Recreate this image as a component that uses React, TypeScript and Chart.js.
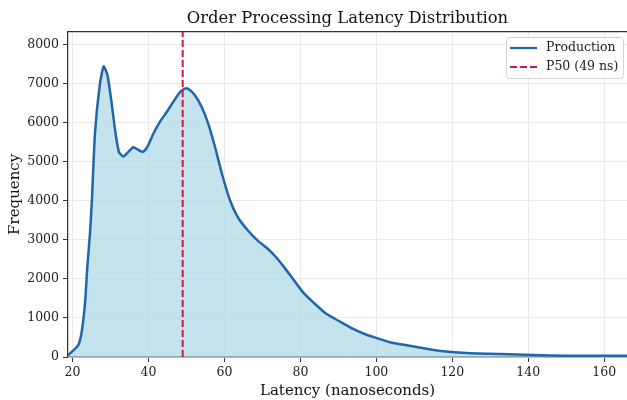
import React, { useEffect, useRef } from "react";
import { Chart, registerables } from "chart.js";

Chart.register(...registerables);

const latency = [18.8, 20.2, 21.5, 22.4, 23.3, 23.9, 24.6, 25.1, 25.9, 27.2, 28.2, 29.2, 30.3, 31.2, 32.2, 33.4, 34.7, 36.0, 37.3, 38.5, 39.7, 41.3, 43.0, 44.8, 46.5, 48.3, 49.6, 50.5, 52.2, 54.0, 55.7, 57.5, 59.3, 61.4, 63.6, 66.3, 68.9, 71.1, 73.3, 75.5, 78.1, 80.7, 83.4, 86.9, 90.4, 93.9, 97.4, 100.1, 103.6, 108.0, 113.2, 117.6, 123.7, 132.5, 141.3, 150, 166];
const frequency = [40, 170, 300, 640, 1400, 2330, 3180, 4030, 5730, 7000, 7450, 7220, 6500, 5820, 5260, 5140, 5260, 5375, 5310, 5260, 5390, 5730, 6030, 6280, 6540, 6790, 6880, 6870, 6710, 6410, 5990, 5390, 4710, 4030, 3570, 3230, 2970, 2800, 2590, 2330, 1995, 1655, 1400, 1100, 910, 720, 570, 485, 380, 300, 210, 145, 100, 75, 50, 30, 30];
const p50 = 49;
const xTicks = [20, 40, 60, 80, 100, 120, 140, 160];
const yTicks = [0, 1000, 2000, 3000, 4000, 5000, 6000, 7000, 8000];
const xMin = 18.8;
const xMax = 166;
const yMax = 8340;
const seriesLabel = "Production";
const p50Label = `P50 (${p50} ns)`;

const FONT = "'DejaVu Serif', serif";
const BLUE = "#2166ac";
const RED = "#c41e3a";

const frame = {
  id: "frame",
  afterDatasetsDraw(chart: any) {
    const { ctx, chartArea } = chart;
    ctx.save();
    ctx.strokeStyle = "#333";
    ctx.lineWidth = 1.25;
    ctx.beginPath();
    ctx.moveTo(chartArea.left, chartArea.top);
    ctx.lineTo(chartArea.right, chartArea.top);
    ctx.stroke();
    // legend
    const bx = 506, by = 37, bw = 117, bh = 41;
    ctx.fillStyle = "rgba(255,255,255,0.85)";
    ctx.strokeStyle = "#d4d4d4";
    ctx.lineWidth = 1;
    ctx.beginPath();
    (ctx as any).roundRect(bx + 0.5, by + 0.5, bw, bh, 3);
    ctx.fill();
    ctx.stroke();
    const items = [
      { label: seriesLabel, color: BLUE, dash: [] as number[], y: 48 },
      { label: p50Label, color: RED, dash: [7, 3], y: 67 },
    ];
    for (const it of items) {
      ctx.strokeStyle = it.color;
      ctx.lineWidth = 2.2;
      ctx.setLineDash(it.dash);
      ctx.beginPath();
      ctx.moveTo(510, it.y);
      ctx.lineTo(537, it.y);
      ctx.stroke();
      ctx.setLineDash([]);
      ctx.fillStyle = "#222";
      ctx.font = `12.5px ${FONT}`;
      ctx.textBaseline = "middle";
      ctx.textAlign = "left";
      ctx.fillText(it.label, 546, it.y);
    }
    ctx.restore();
  },
};

export default function App() {
  const ref = useRef<HTMLCanvasElement>(null);
  useEffect(() => {
    document.body.style.margin = "0";
    const points = latency.map((x, i) => ({ x, y: frequency[i] }));
    const chart = new Chart(ref.current!, {
      type: "line",
      data: {
        datasets: [
          {
            label: seriesLabel,
            data: points,
            borderColor: BLUE,
            borderWidth: 2.5,
            backgroundColor: "rgba(173,216,230,0.72)",
            fill: "origin",
            pointRadius: 0,
            tension: 0.2,
            order: 1,
          },
          {
            label: p50Label,
            data: [
              { x: p50, y: 0 },
              { x: p50, y: yMax },
            ],
            borderColor: RED,
            borderWidth: 2,
            borderDash: [7, 3],
            pointRadius: 0,
            fill: false,
            order: 0,
          },
        ],
      },
      plugins: [frame],
      options: {
        animation: false,
        responsive: false,
        devicePixelRatio: 1,
        layout: { padding: 0 },
        plugins: {
          legend: { display: false },
          tooltip: { enabled: false },
          title: {
            display: true,
            text: "Order Processing Latency Distribution",
            fullSize: false,
            color: "#111",
            font: { family: FONT, size: 16.4, weight: "normal" },
            padding: { top: 9, bottom: 3 },
          },
        },
        scales: {
          x: {
            type: "linear",
            min: xMin,
            max: xMax,
            afterBuildTicks: (s: any) => {
              s.ticks = xTicks.map((v) => ({ value: v }));
            },
            afterFit: (s: any) => {
              s.height = 43;
            },
            grid: { color: "#e9e9e9", lineWidth: 1, tickLength: 5, tickColor: "#333" },
            border: { color: "#333", width: 1.25 },
            ticks: { color: "#222", font: { family: FONT, size: 12.5 }, padding: 3, maxRotation: 0, callback: (v: any) => String(v) },
            title: {
              display: true,
              text: "Latency (nanoseconds)",
              color: "#111",
              font: { family: FONT, size: 15 },
              padding: { top: 0, bottom: 0 },
            },
          },
          y: {
            type: "linear",
            min: 0,
            max: yMax,
            afterBuildTicks: (s: any) => {
              s.ticks = yTicks.map((v) => ({ value: v }));
            },
            afterFit: (s: any) => {
              s.width = 68;
            },
            grid: { color: "#e9e9e9", lineWidth: 1, tickLength: 5, tickColor: "#333" },
            border: { color: "#333", width: 1.25 },
            ticks: { color: "#222", font: { family: FONT, size: 12.5 }, padding: 4, callback: (v: any) => String(v) },
            title: {
              display: true,
              text: "Frequency",
              color: "#111",
              font: { family: FONT, size: 15 },
              padding: { top: 6, bottom: 0 },
            },
          },
        },
      },
    } as any);
    return () => chart.destroy();
  }, []);
  return <canvas ref={ref} width={627} height={400} style={{ display: "block" }} />;
}
